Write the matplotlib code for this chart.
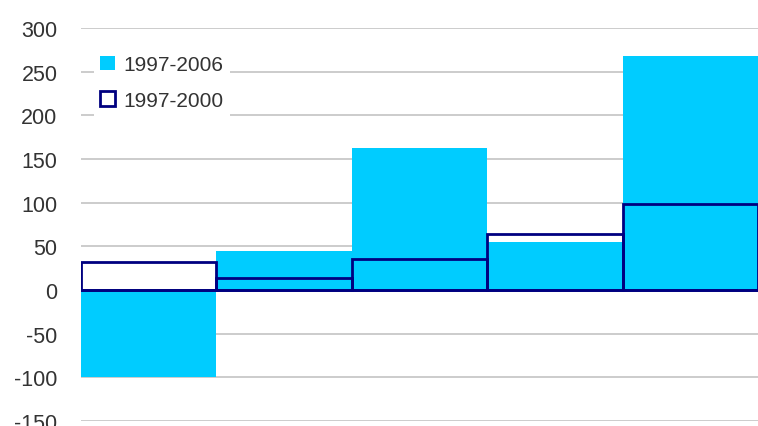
import matplotlib.pyplot as plt
import numpy as np

# values
groups = [0, 1, 2, 3, 4]
growth_1997_2006 = [-100, 45, 163, 55, 268]
growth_1997_2000 = [32, 14, 36, 64, 98]
yticks = [-150, -100, -50, 0, 50, 100, 150, 200, 250, 300]

cyan = '#00CCFF'
navy = '#000080'

plt.rcParams['font.family'] = ['Liberation Sans', 'DejaVu Sans']
plt.rcParams['axes.unicode_minus'] = False

fig = plt.figure(figsize=(7.58, 4.27), dpi=100)
ax = fig.add_axes([81 / 758, 1 - 422 / 427, 1 - 81 / 758, 393 / 427])

ax.bar(groups, growth_1997_2006, width=1.0, color=cyan, label='1997-2006', zorder=2)
ax.bar(groups, growth_1997_2000, width=1.0, fill=False, edgecolor=navy,
       linewidth=2, label='1997-2000', zorder=3)
ax.axhline(0, color=navy, linewidth=2, zorder=4)

ax.set_xlim(-0.5, 4.5)
ax.set_ylim(-150, 300)
ax.set_yticks(yticks)
ax.set_xticks([])
ax.yaxis.grid(True, color='#C8C8C8', linewidth=1.3, zorder=0)
ax.set_axisbelow(True)
for s in ax.spines.values():
    s.set_visible(False)
ax.tick_params(axis='y', length=0, pad=17, labelsize=15.5, labelcolor='#333333')

leg = ax.legend(loc='upper left', bbox_to_anchor=(94 / 758, 1 - 50 / 427),
                bbox_transform=fig.transFigure, fontsize=15, frameon=True,
                fancybox=False, edgecolor='none', facecolor='white', framealpha=1,
                handlelength=0.7, handleheight=0.7, handletextpad=0.4,
                labelspacing=0.8, borderpad=0.3, borderaxespad=0)
for t in leg.get_texts():
    t.set_color('#333333')

fig.savefig('out.png', dpi=100)
